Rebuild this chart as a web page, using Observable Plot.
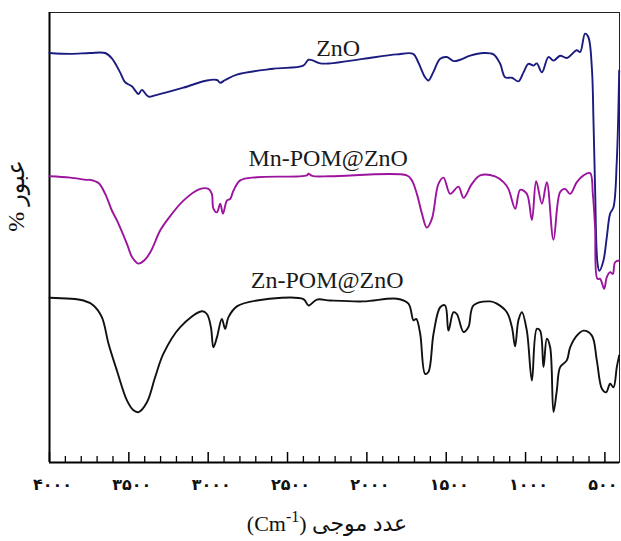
<!DOCTYPE html>
<html><head><meta charset="utf-8">
<script src="https://cdn.jsdelivr.net/npm/d3@7"></script>
<script src="https://cdn.jsdelivr.net/npm/@observablehq/plot@0.6"></script>
<style>body{margin:0;background:#fff}</style>
</head><body><div id="chart"></div>
<script>
// ---- data (wavenumber cm-1, transmittance % arbitrary offset scale) ----
const znoWN = [4000,3870,3744,3649,3607,3555,3523,3481,3439,3418,3376,3334,3156,3008,2945,2924,2893,2819,2590,2401,2368,2338,2294,2231,2023,1811,1708,1677,1633,1612,1582,1538,1496,1454,1412,1349,1265,1202,1160,1129,1086,1045,1013,982,950,929,897,856,824,782,740,677,656,625,604,582,572,562,547,535,509,488,467,446,425,410];
const znoT  = [91.0,90.8,91.0,91.0,89.8,86.7,84.5,83.6,81.9,82.8,81.3,81.6,83.3,84.9,85.0,84.4,85.0,86.2,87.5,88.2,89.5,89.3,88.7,88.7,89.7,90.7,90.8,89.0,85.6,84.9,86.7,89.7,90.1,89.2,89.5,90.4,91.0,90.7,88.6,85.6,85.5,84.7,86.7,88.6,88.2,88.7,86.7,90.1,89.3,90.4,89.9,91.6,91.2,95.3,94.5,87.6,76.0,61.2,44.4,42.6,44.9,50.1,55.3,56.7,67.1,87.1];

const mnWN = [4000,3870,3764,3744,3691,3649,3607,3575,3512,3479,3439,3403,3365,3302,3260,3156,3050,2998,2977,2967,2945,2924,2907,2882,2861,2841,2798,2693,2378,2368,2345,2231,1748,1717,1685,1653,1622,1590,1549,1517,1475,1423,1391,1338,1286,1192,1139,1108,1065,1034,992,960,933,897,866,824,782,751,719,677,635,593,576,562,547,530,505,488,467,450,436,410];
const mnT  = [63.6,63.3,62.8,62.8,62.1,59.7,56.0,53.8,48.6,45.6,44.2,44.9,46.7,51.6,53.8,58.2,60.8,60.8,59.7,56.4,55.6,57.5,55.3,58.2,58.6,60.4,62.7,63.4,63.8,64.2,63.7,63.6,63.8,62.7,59.7,55.3,52.2,54.2,61.9,63.3,59.7,61.3,58.8,61.9,63.8,63.6,62.3,60.8,56.4,60.6,59.7,53.9,62.5,57.5,62.3,49.5,60.1,60.8,59.7,62.3,63.8,64.3,59.7,52.3,40.8,40.8,38.6,41.2,42.3,41.9,44.5,44.9];

const znWN = [4000,3786,3723,3670,3628,3575,3512,3471,3439,3386,3334,3282,3176,3040,3008,2983,2967,2945,2914,2893,2872,2819,2693,2400,2368,2315,2231,2021,1811,1738,1706,1689,1664,1633,1612,1580,1538,1507,1486,1454,1433,1391,1360,1328,1223,1181,1118,1086,1066,1045,1023,992,960,929,908,887,866,845,824,803,782,740,719,677,635,582,551,519,492,467,446,425,410];
const znT  = [36.6,36.0,34.9,32.3,26.4,20.4,13.8,11.6,11.2,13.4,19.0,24.2,30.1,33.6,33.0,30.1,25.6,27.8,31.9,29.7,32.3,34.7,36.0,36.3,34.9,36.2,36.0,35.8,36.4,35.3,31.6,31.9,28.6,19.7,20.1,28.6,34.5,34.9,29.3,33.4,33.0,29.0,30.1,34.9,35.8,35.3,33.4,30.1,25.8,31.6,33.4,29.3,18.2,29.7,29.3,21.2,27.5,25.6,11.2,16.0,21.2,22.7,25.6,28.2,29.3,28.2,22.7,16.4,15.6,17.5,16.7,21.2,23.8];

const seriesNames  = ["ZnO","Mn-POM@ZnO","Zn-POM@ZnO"];
const seriesColors = ["#1b1b80","#9c139e","#111111"];
const labelWN = [2181, 2244, 2250];
const labelT  = [90.4, 66.0, 38.7];

const majorTicks = [4000,3500,3000,2500,2000,1500,1000,500];
const tickLabels = ["۴۰۰۰","۳۵۰۰","۳۰۰۰","۲۵۰۰","۲۰۰۰","۱۵۰۰","۱۰۰۰","۵۰۰"];
const minorTicks = [3900,3800,3700,3600,3400,3300,3200,3100,2900,2800,2700,2600,2400,2300,2200,2100,1900,1800,1700,1600,1400,1300,1200,1100,900,800,700,600];

const xTitleMain = "(Cm";
const xTitleSup = "-1";
const xTitleEnd = ") عدد موجی";
const yTitle = "% عبور";

// ---- build ----
const toRows = (wn, t, name) => wn.map((w, i) => ({wn: w, t: t[i], series: name}));
const rows = [
  ...toRows(znoWN, znoT, seriesNames[0]),
  ...toRows(mnWN, mnT, seriesNames[1]),
  ...toRows(znWN, znT, seriesNames[2])
];
const labels = seriesNames.map((s, i) => ({name: s, wn: labelWN[i], t: labelT[i]}));
const fmt = d => tickLabels[majorTicks.indexOf(d)];
const labelStyle = {tickSize: 0, tickPadding: 16, tickFormat: fmt, fontSize: 16, fontWeight: "bold",
  fontFamily: "DejaVu Sans", fill: "#111", label: null};

const plot = Plot.plot({
  width: 621, height: 541,
  marginLeft: 49, marginRight: 2, marginTop: 12, marginBottom: 79,
  style: {background: "#fff"},
  x: {domain: [4000, 408], axis: null},
  y: {domain: [0, 100], axis: null},
  color: {domain: seriesNames, range: seriesColors},
  marks: [
    Plot.frame({stroke: "#222", strokeWidth: 1}),
    Plot.ruleY([0], {stroke: "#000", strokeWidth: 2}),
    Plot.ruleX([4000], {stroke: "#000", strokeWidth: 2}),
    Plot.ruleX(minorTicks, {insetTop: 444, stroke: "#000", strokeWidth: 1.3}),
    Plot.ruleX(majorTicks, {insetTop: 440, stroke: "#000", strokeWidth: 1.5}),
    Plot.axisX(majorTicks.slice(0, -1), {...labelStyle, dx: 3}),
    Plot.axisX(majorTicks.slice(-1), {...labelStyle, dx: -2}),
    Plot.line(rows, {x: "wn", y: "t", z: "series", stroke: "series", strokeWidth: 1.9, curve: "catmull-rom"}),
    Plot.text(labels, {x: "wn", y: "t", text: "name", textAnchor: "middle", lineAnchor: "bottom",
      fontSize: 24, fontFamily: "Liberation Serif", fill: "#1a1a1a"})
  ]
});

const svg = d3.select(plot);
const xt = svg.append("text")
  .attr("x", 327).attr("y", 531)
  .attr("text-anchor", "middle")
  .attr("direction", "ltr")
  .attr("font-family", "Liberation Serif, DejaVu Sans")
  .attr("font-size", 22).attr("fill", "#111");
xt.append("tspan").text(xTitleMain);
xt.append("tspan").attr("dy", -9).attr("font-size", 16).text(xTitleSup);
xt.append("tspan").attr("dy", 9).text(xTitleEnd);

svg.append("text")
  .attr("transform", "translate(24,196) rotate(-90)")
  .attr("text-anchor", "middle")
  .attr("direction", "ltr")
  .attr("font-family", "Liberation Serif, DejaVu Sans")
  .attr("font-size", 24).attr("fill", "#111")
  .text(yTitle);

document.getElementById("chart").appendChild(plot);
</script>
</body></html>
